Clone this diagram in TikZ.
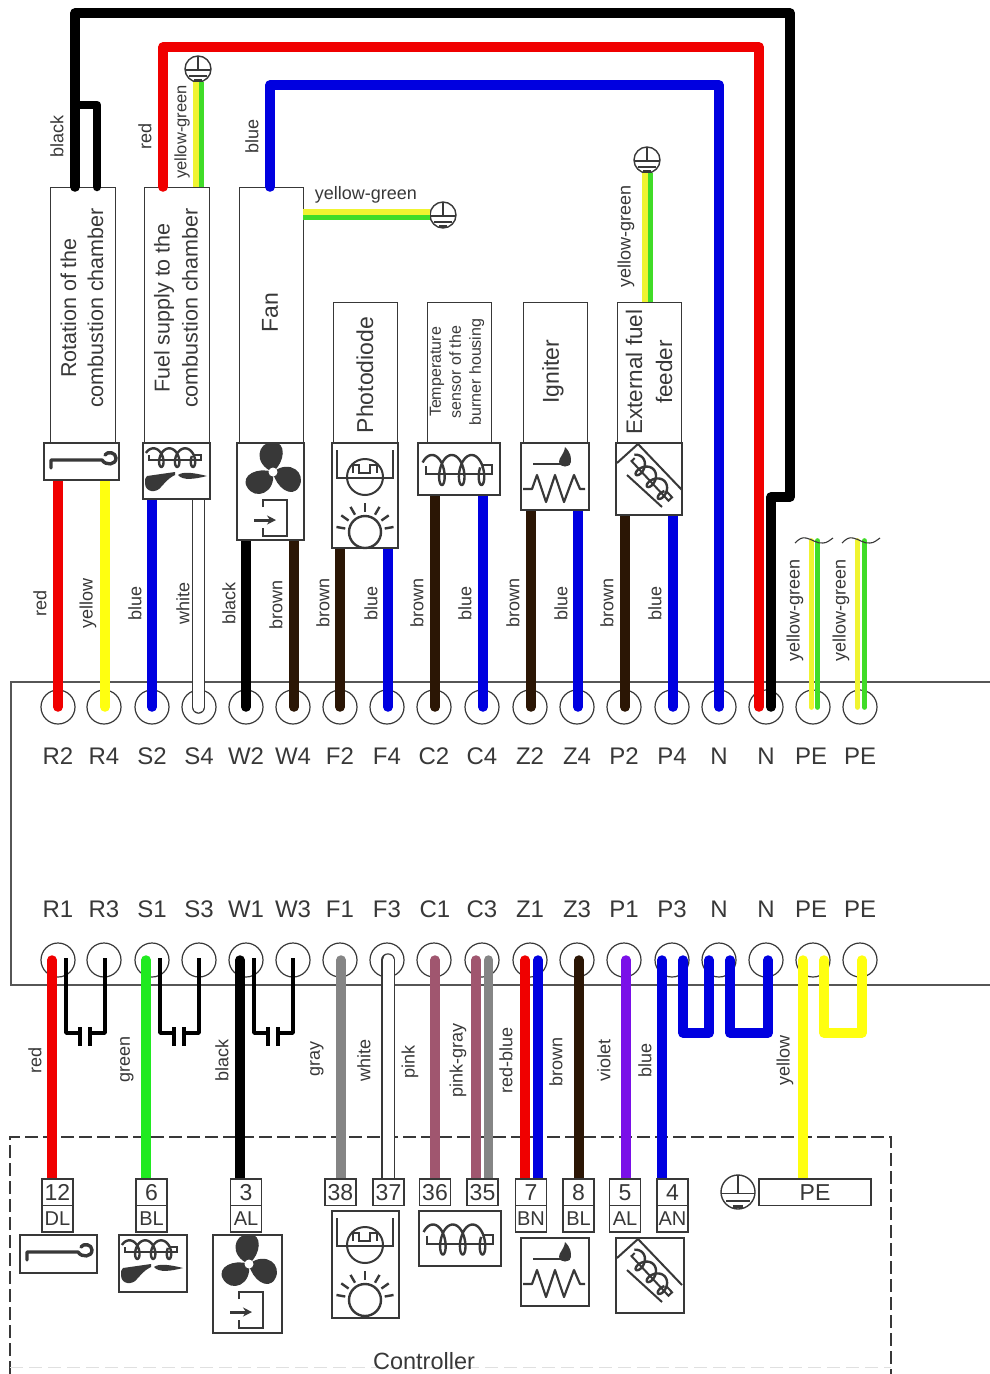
\documentclass[tikz,border=0pt]{standalone}
\usepackage{fontspec}
\setmainfont{Liberation Sans}
\usetikzlibrary{arrows.meta}
\pgfdeclarelayer{under}\pgfdeclarelayer{wires}\pgfdeclarelayer{over}
\pgfsetlayers{under,wires,main,over}
\definecolor{cred}{HTML}{F00000}
\definecolor{cblue}{HTML}{0000E0}
\definecolor{cyel}{HTML}{FFFF10}
\definecolor{cbrown}{HTML}{2B1605}
\definecolor{cgreen}{HTML}{20EA20}
\definecolor{cgray}{HTML}{858585}
\definecolor{cpink}{HTML}{A0566F}
\definecolor{cviolet}{HTML}{7A10E8}
\definecolor{cyg}{HTML}{F0F430}
\definecolor{cgg}{HTML}{40DC28}
\definecolor{ink}{HTML}{383838}
\newcommand{\fs}[2]{\fontsize{#1}{#2}\selectfont}
\newcommand{\ScrewDraw}{%
  \draw[icon,line width=2.4pt] plot[domain=-60:1000,samples=140,smooth,variable=\t]
     ({-27+0.055*\t+7*sin(\t)},{-15*cos(\t)+1});
  \draw[icon] (-33,-3) -- (-33,5) -- (33,5) -- (33,-4) -- (22,-4);
}
% wires: colour, x, from, to
\newcommand{\wv}[4]{\draw[wire,#1] (#2,0 |- #3) -- (#2,0 |- #4);}
\newcommand{\wwhite}[3]{%
  \draw[wire,draw=ink,line width=13.5pt] (#1,0 |- #2) -- (#1,0 |- #3);
  \draw[wire,draw=white,line width=11pt] (#1,0 |- #2) -- (#1,0 |- #3);}
\tikzset{
  wire/.style={line width=9.5pt,line cap=round,line join=round},
  thinw/.style={line width=5.7pt,line cap=butt},
  jump/.style={line width=3.4pt,black,line join=round},
  icon/.style={line width=2pt,draw=ink},
  boxst/.style={draw=ink,line width=1.2pt,fill=white,inner sep=0pt,outer sep=0pt},
  lbox/.style={draw=ink,line width=1pt,fill=white,inner sep=0pt,outer sep=0pt},
  term/.style={circle,draw=ink,line width=1.2pt,minimum size=34pt,inner sep=0pt,outer sep=0pt},
  earthc/.style={circle,draw=ink,line width=1.4pt,minimum size=26pt,inner sep=0pt,outer sep=0pt,fill=white},
  txt/.style={text=ink,inner sep=0pt,align=center},
  rot/.style={txt,rotate=90},
  wl/.style={txt,rotate=90,font=\fs{18}{20}},
  tl/.style={txt,font=\fs{24}{26}},
  num/.style={boxst,minimum width=31pt,minimum height=26.5pt,text=ink,font=\fs{23}{25}},
  let/.style={boxst,minimum width=31pt,minimum height=26.5pt,text=ink,font=\fs{20}{22}},
  pics/earth/.style={code={
    \draw[line width=1.4pt,ink] (0,-13) -- (0,1) (-13,1) -- (13,1) (-9,7) -- (9,7);
    \draw[line width=2.4pt,ink] (-4,11) -- (4,11);
  }},
  pics/hook/.style={code={
    \draw[icon,line width=3.4pt,line join=round,line cap=round]
      (7,25) -- (7,17) -- (58,17) .. controls (62,23) and (72,22) .. (72,15) .. controls (72,9) and (63,8) .. (61,12);
  }},
  pics/fuelicon/.style={code={
    \begin{scope}[shift={(32,14)},xscale=.8,yscale=.62]\ScrewDraw\end{scope}
    \fill[ink] (4,33) -- (32,29) -- (32,32) .. controls (24,36) and (22,40) .. (18,44) .. controls (14,50) and (2,50) .. (2,40) .. controls (2,36) and (2,35) .. (4,33) -- cycle;
    \fill[ink] (35,32) .. controls (40,28) and (52,30) .. (64,33) .. controls (52,36) and (40,38) .. (35,32) -- cycle;
  }},
  pics/fanicon/.style={code={
    \begin{scope}[shift={(36,29)}]
      \foreach \a in {0,120,240}{
        \fill[ink,rotate=\a] (0,0) .. controls (-20,-8) and (-16,-30) .. (0,-30) .. controls (14,-30) and (12,-10) .. (0,0) -- cycle;}
      \fill[white] (0,0) circle (4.5);
    \end{scope}
    \draw[icon] (26,64) -- (26,57) -- (50,57) -- (50,93) -- (26,93) -- (26,85);
    \draw[line width=3pt,ink,-{Stealth[length=9pt,width=9pt]}] (17,77) -- (39,77);
  }},
  pics/photoicon/.style={code={
    \draw[icon] (33,34) circle (18);
    \draw[icon] (5,7) -- (5,35) -- (61,35) -- (61,7);
    \draw[icon] (21,30) -- (21,22) -- (27,22) -- (27,30) -- (38,30) -- (38,22) -- (45,22) -- (45,30);
    \draw[icon,line width=2.4pt] (33,89) circle (16);
    \foreach \a in {10,35,60,90,120,145,170}{
      \draw[icon,line width=2.4pt] (33,89) ++(-\a:20) -- ++(-\a:9);}
  }},
  pics/igniter/.style={code={
    \draw[icon,line width=2.2pt,line join=round] (2,46) -- (11,46) -- (16,32) -- (25,59) -- (34,32) -- (43,59) -- (53,32) -- (59,46) -- (64,46);
    \draw[icon] (12,21) -- (49,21);
    \fill[ink] (44,4) .. controls (50,10) and (50,14) .. (50,19) .. controls (50,25) and (38,25) .. (38,19) .. controls (38,14) and (43,12) .. (44,4) -- cycle;
  }},
  pics/feeder/.style={code={
    \draw[icon] (1,20) -- (22,1) -- (66,47);
    \draw[icon] (11,32) -- (46,64);
    \begin{scope}[shift={(36,36)},rotate=-47,xscale=.82,yscale=.55]\ScrewDraw\end{scope}
  }},
}
\begin{document}
\begin{tikzpicture}[x=1pt,y=-1pt]
\useasboundingbox (0,0) rectangle (990,1374);

% ---------- panel frame and terminals (lowest layer)
\begin{pgfonlayer}{under}
  \draw[line width=1.2pt,draw=ink!85] (990,682) -- (11,682) -- (11,985) -- (990,985);
  \foreach \n/\x in {R2/58,R4/104,S2/152,S4/199,W2/246,W4/293,F2/340,F4/387,C2/434,C4/482,Z2/530,Z4/577,P2/624,P4/672,Na/719,Nb/766,Pa/813,Pb/860}
    \node[term] (t\n) at (\x,707) {};
  \foreach \n/\x in {R1/58,R3/104,S1/152,S3/199,W1/246,W3/293,F1/340,F3/387,C1/434,C3/482,Z1/530,Z3/577,P1/624,P3/672,Nc/719,Nd/766,Pc/813,Pd/860}
    \node[term] (t\n) at (\x,960) {};
  \draw[dashed,dash pattern=on 13pt off 5pt,line width=1.2pt,draw=ink] (10,1374) -- (10,1137) -- (891,1137) -- (891,1374);
  \draw[dashed,dash pattern=on 13pt off 6pt,line width=1pt,draw=black!12] (10,1367) -- (891,1367);
\end{pgfonlayer}

% ---------- terminal labels
\foreach \n/\x/\s in {aR2/58/R2,aR4/104/R4,aS2/152/S2,aS4/199/S4,aW2/246/W2,aW4/293/W4,aF2/340/F2,aF4/387/F4,aC2/434/C2,aC4/482/C4,aZ2/530/Z2,aZ4/577/Z4,aP2/624/P2,aP4/672/P4,aNa/719/N,aNb/766/N,aPa/811/PE,aPb/860/PE}
  \node[tl] (\n) at (\x,756) {\s};
\foreach \n/\x/\s in {bR1/58/R1,bR3/104/R3,bS1/152/S1,bS3/199/S3,bW1/246/W1,bW3/293/W3,bF1/340/F1,bF3/387/F3,bC1/435/C1,bC3/482/C3,bZ1/530/Z1,bZ3/577/Z3,bP1/624/P1,bP3/672/P3,bNc/719/N,bNd/766/N,bPc/811/PE,bPd/860/PE}
  \node[tl] (\n) at (\x,909) {\s};

% ---------- device label boxes
\node[lbox,minimum width=65pt,minimum height=256pt] (bRot) at (82.5,315) {};
\node[lbox,minimum width=65pt,minimum height=256pt] (bFuel) at (176.5,315) {};
\node[lbox,minimum width=64pt,minimum height=256pt] (bFan) at (271,315) {};
\node[lbox,minimum width=64pt,minimum height=141pt] (bPho) at (365,372.5) {};
\node[lbox,minimum width=64pt,minimum height=141pt] (bTmp) at (459,372.5) {};
\node[lbox,minimum width=64pt,minimum height=141pt] (bIgn) at (555,372.5) {};
\node[lbox,minimum width=64pt,minimum height=141pt] (bExt) at (649,372.5) {};
\node[rot,font=\fs{21.5}{27}] (xRot) at (82,308) {Rotation of the\\combustion chamber};
\node[rot,font=\fs{21.5}{28}] (xFuel) at (176,308) {Fuel supply to the\\combustion chamber};
\node[rot,font=\fs{23}{25}] (xFan) at (270,313) {Fan};
\node[rot,font=\fs{23}{25}] (xPho) at (365,375) {Photodiode};
\node[rot,font=\fs{16}{20}] (xTmp) at (457,372) {Temperature\\sensor of the\\burner housing};
\node[rot,font=\fs{23}{25}] (xIgn) at (553,372) {Igniter};
\node[rot,font=\fs{22.5}{30}] (xExt) at (649,372) {External fuel\\feeder};

% ---------- upper icon boxes
\node[boxst,minimum width=75pt,minimum height=37pt] (iRot) at (81.5,461.5) {};
\node[boxst,minimum width=67pt,minimum height=56pt] (iFuel) at (176.5,471) {};
\node[boxst,minimum width=67pt,minimum height=97pt] (iFan) at (270.5,491.5) {};
\node[boxst,minimum width=66pt,minimum height=105pt] (iPho) at (365,495.5) {};
\node[boxst,minimum width=82pt,minimum height=52pt] (iTmp) at (459,469) {};
\node[boxst,minimum width=68pt,minimum height=67pt] (iIgn) at (555,476.5) {};
\node[boxst,minimum width=66pt,minimum height=72pt] (iExt) at (649,479) {};
\pic at (iRot.north west) {hook};
\pic at (iFuel.north west) {fuelicon};
\pic at (iFan.north west) {fanicon};
\pic at (iPho.north west) {photoicon};
\begin{scope}[shift={(iTmp.center)}]\ScrewDraw\end{scope}
\pic at (iIgn.north west) {igniter};
\pic at (iExt.north west) {feeder};

% ---------- controller terminals
\foreach \n/\x/\s/\l in {12/57.5/12/DL,6/151.5/6/BL,3/246/3/AL,7/531/7/BN,8/578.5/8/BL,5/625/5/AL,4/672.5/4/AN}{
  \node[num] (n\n) at (\x,1192.25) {\s};
  \node[let] (d\n) at (\x,1218.75) {\l};
}
\foreach \n/\x in {38/340.5,37/388.5,36/435,35/482.5}
  \node[num] (n\n) at (\x,1192.25) {\n};
\node[num,minimum width=112pt] (nPE) at (815,1192.25) {PE};
\node[earthc,minimum size=34pt] (e4) at (738,1192) {};
\pic[scale=1.3] at (e4.center) {earth};

% ---------- controller icons
\node[boxst,minimum width=77pt,minimum height=38pt] (cRot) at (58.5,1254) {};
\node[boxst,minimum width=68pt,minimum height=57pt] (cFuel) at (153,1263.5) {};
\node[boxst,minimum width=69pt,minimum height=98pt] (cFan) at (247.5,1284) {};
\node[boxst,minimum width=67pt,minimum height=107pt] (cPho) at (365.5,1264.5) {};
\node[boxst,minimum width=82pt,minimum height=55pt] (cTmp) at (460,1238.5) {};
\node[boxst,minimum width=68pt,minimum height=68pt] (cIgn) at (555,1272) {};
\node[boxst,minimum width=68pt,minimum height=75pt] (cExt) at (650,1275.5) {};
\pic at (cRot.north west) {hook};
\pic at (cFuel.north west) {fuelicon};
\pic at (cFan.north west) {fanicon};
\pic at (cPho.north west) {photoicon};
\begin{scope}[shift={(cTmp.center)}]\ScrewDraw\end{scope}
\pic at (cIgn.north west) {igniter};
\pic at (cExt.north west) {feeder};
\node[txt,font=\fs{23.5}{25}] (ctl) at (424,1361) {Controller};

% ---------- earth symbols
\node[earthc] (e1) at (198,69) {};
\node[earthc] (e2) at (443,215) {};
\node[earthc] (e3) at (647,160) {};
\pic at (e1.center) {earth};
\pic at (e2.center) {earth};
\pic at (e3.center) {earth};

% ---------- upper wires, below the icon boxes
\begin{pgfonlayer}{wires}
  \wv{cred}{58}{tR2.center}{iRot.south}
  \wv{cyel}{105}{tR4.center}{iRot.south}
  \wv{cblue}{152}{tS2.center}{iFuel.south}
  \wwhite{198.5}{tS4.center}{iFuel.south}
  \wv{black}{246}{tW2.center}{iFan.south}
  \wv{cbrown}{294}{tW4.center}{iFan.south}
  \wv{cbrown}{340}{tF2.center}{iPho.south}
  \wv{cblue}{388}{tF4.center}{iPho.south}
  \wv{cbrown}{435}{tC2.center}{iTmp.south}
  \wv{cblue}{483}{tC4.center}{iTmp.south}
  \wv{cbrown}{531}{tZ2.center}{iIgn.south}
  \wv{cblue}{578}{tZ4.center}{iIgn.south}
  \wv{cbrown}{625}{tP2.center}{iExt.south}
  \wv{cblue}{673}{tP4.center}{iExt.south}
  \draw[thinw,draw=cyg,line cap=round] (811.5,0 |- tPa.center) -- (811.5,541);
  \draw[thinw,draw=cgg,line cap=round] (817.5,0 |- tPa.center) -- (817.5,541);
  \draw[thinw,draw=cyg,line cap=round] (857.5,0 |- tPb.center) -- (857.5,541);
  \draw[thinw,draw=cgg,line cap=round] (864.5,0 |- tPb.center) -- (864.5,541);
  % controller side
  \wv{cred}{52}{tR1.center}{n12.north}
  \wv{cgreen}{146}{tS1.center}{n6.north}
  \wv{black}{240}{tW1.center}{n3.north}
  \wv{cgray}{341}{tF1.center}{n38.north}
  \wwhite{388}{tF3.center}{n37.north}
  \wv{cpink}{435}{tC1.center}{n36.north}
  \wv{cpink}{476}{tC3.center}{n35.north}
  \wv{cgray}{488.5}{tC3.center}{n35.north}
  \wv{cred}{525}{tZ1.center}{n7.north}
  \wv{cblue}{538}{tZ1.center}{n7.north}
  \wv{cbrown}{579}{tZ3.center}{n8.north}
  \wv{cviolet}{626}{tP1.center}{n5.north}
  \wv{cblue}{662}{tP3.center}{n4.north}
  \wv{cyel}{803}{tPc.center}{nPE.north}
\end{pgfonlayer}

% ---------- wires that end on the boxes or loop between terminals
\begin{pgfonlayer}{over}
  \draw[wire,cblue] (719,0 |- tNa.center) -- (719,85) -- (270,85) -- (270,0 |- bFan.north);
  \draw[wire,cred] (759,0 |- tNb.center) -- (759,47) -- (163,47) -- (163,0 |- bFuel.north);
  \draw[wire,black] (771,0 |- tNb.center) -- (771,497) -- (790,497) -- (790,13) -- (75,13) -- (75,0 |- bRot.north);
  \draw[wire,black,line width=8.5pt] (75,105) -- (97,105) -- (97,0 |- bRot.north);
  % yellow-green earth leads
  \draw[thinw,draw=cyg] (196,0 |- e1.south) -- (196,0 |- bFuel.north);
  \draw[thinw,draw=cgg] (201.5,0 |- e1.south) -- (201.5,0 |- bFuel.north);
  \draw[thinw,draw=cyg] (bFan.east |- 0,212) -- (e2.west |- 0,212);
  \draw[thinw,draw=cgg] (bFan.east |- 0,217.5) -- (e2.west |- 0,217.5);
  \draw[thinw,draw=cyg] (645,0 |- e3.south) -- (645,0 |- bExt.north);
  \draw[thinw,draw=cgg] (650.5,0 |- e3.south) -- (650.5,0 |- bExt.north);
  % link loops
  \draw[wire,cblue] (683,0 |- tP3.center) -- (683,1033) -- (709,1033) -- (709,0 |- tNc.center);
  \draw[wire,cblue] (730,0 |- tNc.center) -- (730,1033) -- (768,1033) -- (768,0 |- tNd.center);
  \draw[wire,cyel] (824,0 |- tPc.center) -- (824,1033) -- (862,1033) -- (862,0 |- tPd.center);
  % thin black jumpers
  \foreach \s/\a/\b in {0/R1/R3,94/S1/S3,188/W1/W3}{
    \begin{scope}[xshift=\s pt]
      \draw[jump] (66,958) -- (66,1033) -- (80,1033);
      \draw[jump] (80,1027) -- (80,1046);
      \draw[jump] (90,1027) -- (90,1046);
      \draw[jump] (105,958) -- (105,1033) -- (90,1033);
    \end{scope}}
  % broken-off cable ends
  \foreach \s in {0,47}{
    \draw[line width=1.1pt,ink,xshift=\s pt] (795,543) .. controls (799,539) and (802,537) .. (806,538) .. controls (812,539) and (817,544) .. (823,543) .. controls (827,543) and (830,540) .. (833,538);}
\end{pgfonlayer}

% ---------- wire colour labels
\node[wl] (lA) at (57,136) {black};
\node[wl] (lB) at (145,136) {red};
\node[wl,font=\fs{16.5}{18}] (lC) at (182,132) {yellow-green};
\node[wl] (lD) at (252,136) {blue};
\node[txt,font=\fs{18}{20}] (lE) at (366,195) {yellow-green};
\node[wl] (lF) at (626,236) {yellow-green};
\foreach \n/\x/\y/\s in {m1/40/603/red,m2/88/603/yellow,m3/135/603/blue,m4/183/603/white,m5/229/603/black,m6/276/605/brown,m7/323/603/brown,m8/371/603/blue,m9/417/603/brown,m10/465/603/blue,m11/513/603/brown,m12/561/603/blue,m13/607/603/brown,m14/655/603/blue,m15/795/610/yellow-green,m16/841/610/yellow-green}
  \node[wl] (\n) at (\x,\y) {\s};
\foreach \n/\x/\y/\s in {k1/35/1060/red,k2/127/1059/green,k3/222/1060/black,k4/317/1059/gray,k5/364/1060/white,k6/410/1062/pink,k7/458/1060/pink-gray,k8/506/1060/red-blue,k9/556/1062/brown,k10/604/1060/violet,k11/645/1060/blue,k12/785/1060/yellow}
  \node[wl] (\n) at (\x,\y) {\s};
\end{tikzpicture}
\end{document}
